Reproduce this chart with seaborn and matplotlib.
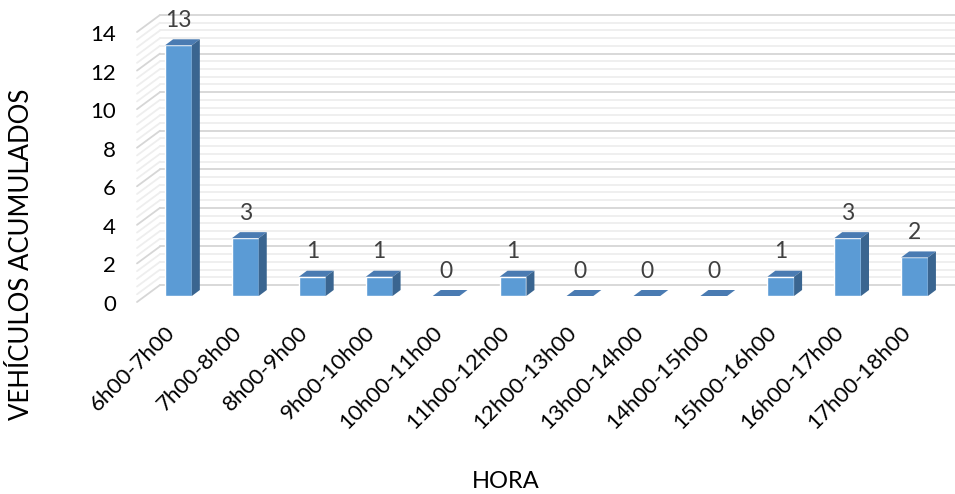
import numpy as np
import pandas as pd
import matplotlib
matplotlib.use("Agg")
import matplotlib.pyplot as plt
import matplotlib.transforms as mtransforms
from matplotlib.lines import Line2D
from matplotlib.patches import Polygon
import seaborn as sns

# Vehicle counts per hourly interval
horas = ["6h00-7h00", "7h00-8h00", "8h00-9h00", "9h00-10h00", "10h00-11h00",
         "11h00-12h00", "12h00-13h00", "13h00-14h00", "14h00-15h00",
         "15h00-16h00", "16h00-17h00", "17h00-18h00"]
vehiculos = [13, 3, 1, 1, 0, 1, 0, 0, 0, 1, 3, 2]
y_ticks = [0, 2, 4, 6, 8, 10, 12, 14]

df = pd.DataFrame({"hora": horas, "vehiculos": vehiculos})

sns.set_theme(style="white")
plt.rcParams["font.family"] = ["Lato", "DejaVu Sans"]

FRONT = "#5B9BD5"
TOP = "#4A7BB2"
SIDE = "#3A6590"

W, H = 955, 494
fig = plt.figure(figsize=(W / 100, H / 100), dpi=100)
ax = fig.add_axes([145 / W, (H - 296) / H, (948 - 145) / W, (296 - 26) / H])

sns.barplot(data=df, x="hora", y="vehiculos", color=FRONT, saturation=1,
            width=0.4, ax=ax, zorder=3, errorbar=None)
ax.set_xlim(-0.5, len(horas) - 0.5)
ax.set_ylim(0, 14)
for s in ax.spines.values():
    s.set_visible(False)
ax.set_facecolor("none")

ident = mtransforms.IdentityTransform()

# Depth of the bars and of the chart walls, in pixels
bdx, bdy = 8, 6
wall_front = (-8, -6)
wall_back = (15, 11)

# Side wall and back wall gridlines (major every 2, minor every 0.4)
x0_data, x1_data = ax.get_xlim()
for v in np.round(np.arange(0, 14.001, 0.4), 2):
    major = abs(v / 2 - round(v / 2)) < 1e-6
    col = "#D6D6D6" if major else "#EEEEEE"
    z = 0.6 if major else 0.5
    xl, yv = ax.transData.transform((x0_data, v))
    xr, _ = ax.transData.transform((x1_data, v))
    fx, fy = xl + wall_front[0], yv + wall_front[1]
    bx, by = xl + wall_back[0], yv + wall_back[1]
    for xs, ys in (([fx, bx], [fy, by]), ([bx, xr + wall_back[0] + 30], [by, by])):
        ax.add_line(Line2D(xs, ys, transform=ident, color=col, lw=1.3,
                           zorder=z, clip_on=False))

# Top and side faces of each bar, built from the bar geometry
for p in list(ax.patches):
    x0, w, h = p.get_x(), p.get_width(), p.get_height()
    (ax0, ay0) = ax.transData.transform((x0, 0))
    (ax1, ay1) = ax.transData.transform((x0 + w, h))
    top = [(ax0, ay1), (ax1, ay1), (ax1 + bdx, ay1 + bdy), (ax0 + bdx, ay1 + bdy)]
    ax.add_patch(Polygon(top, closed=True, transform=ident, facecolor=TOP,
                         edgecolor="none", zorder=3, clip_on=False))
    if h > 0:
        side = [(ax1, ay0), (ax1 + bdx, ay0 + bdy), (ax1 + bdx, ay1 + bdy), (ax1, ay1)]
        ax.add_patch(Polygon(side, closed=True, transform=ident, facecolor=SIDE,
                             edgecolor="none", zorder=3, clip_on=False))

# Value labels
for i, v in enumerate(vehiculos):
    ax.annotate(f"{v}", (i, v), xytext=(0, 18), textcoords="offset points",
                ha="center", va="center", fontsize=16.5, color="#404040",
                annotation_clip=False, zorder=5)

ax.set_yticks(y_ticks)
ax.set_yticklabels([str(t) for t in y_ticks])
ax.tick_params(axis="y", length=0, pad=21, labelsize=16, labelcolor="black")
ax.tick_params(axis="x", length=0, pad=24, labelsize=16, labelcolor="black")
for lab in ax.get_xticklabels():
    lab.set_rotation(45)
    lab.set_ha("right")
    lab.set_va("center")
    lab.set_rotation_mode("anchor")

shift_y = mtransforms.ScaledTranslation(0, -0.07, fig.dpi_scale_trans)
for t in ax.yaxis.get_major_ticks():
    t.label1.set_transform(t.label1.get_transform() + shift_y)
shift_x = mtransforms.ScaledTranslation(-0.07, 0, fig.dpi_scale_trans)
for t in ax.xaxis.get_major_ticks():
    t.label1.set_transform(t.label1.get_transform() + shift_x)

ax.set_xlabel("HORA", fontsize=17, color="black", va="center")
ax.xaxis.set_label_coords((506 - 145) / 803, (296 - 482) / 270)
ax.set_ylabel("VEHÍCULOS ACUMULADOS", fontsize=18.5, color="black",
              va="center", ha="center")
ax.yaxis.set_label_coords((22 - 145) / 803, (296 - 254) / 270)

fig.savefig("out.png", dpi=100, facecolor="white")
